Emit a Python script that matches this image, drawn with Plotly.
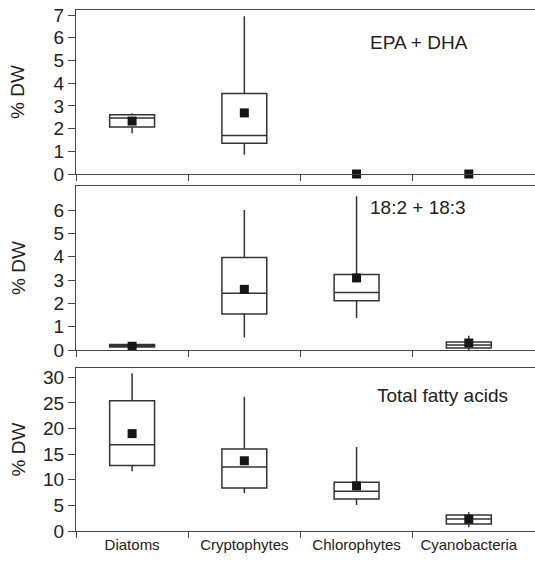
import plotly.graph_objects as go

categories = ["Diatoms", "Cryptophytes", "Chlorophytes", "Cyanobacteria"]
positions = [0, 1, 2, 3]

# EPA + DHA (% DW)
epa_lo = [1.79, 0.85, None, None]
epa_q1 = [2.07, 1.35, None, None]
epa_med = [2.47, 1.70, None, None]
epa_q3 = [2.61, 3.54, None, None]
epa_hi = [2.67, 6.95, None, None]
epa_mean = [2.33, 2.69, 0.0, 0.0]

# 18:2 + 18:3 (% DW)
lin_lo = [0.12, 0.54, 1.37, 0.0]
lin_q1 = [0.13, 1.54, 2.11, 0.09]
lin_med = [0.17, 2.43, 2.46, 0.21]
lin_q3 = [0.24, 3.97, 3.24, 0.34]
lin_hi = [0.25, 6.0, 6.59, 0.61]
lin_mean = [0.16, 2.6, 3.09, 0.3]

# Total fatty acids (% DW)
tfa_lo = [11.65, 7.35, 5.07, 0.72]
tfa_q1 = [12.8, 8.4, 6.25, 1.37]
tfa_med = [16.85, 12.5, 7.74, 2.34]
tfa_q3 = [25.4, 16.0, 9.5, 3.12]
tfa_hi = [30.8, 26.2, 16.4, 3.64]
tfa_mean = [19.0, 13.7, 8.8, 2.3]

# y tick labels per panel
epa_ticks = [0, 1, 2, 3, 4, 5, 6, 7]
lin_ticks = [0, 1, 2, 3, 4, 5, 6]
tfa_ticks = [0, 5, 10, 15, 20, 25, 30]

panels = [
    ("EPA + DHA", epa_lo, epa_q1, epa_med, epa_q3, epa_hi, epa_mean, "x", "y"),
    ("18:2 + 18:3", lin_lo, lin_q1, lin_med, lin_q3, lin_hi, lin_mean, "x2", "y2"),
    ("Total fatty acids", tfa_lo, tfa_q1, tfa_med, tfa_q3, tfa_hi, tfa_mean, "x3", "y3"),
]
yticks = [epa_ticks, lin_ticks, tfa_ticks]

FONT = "Liberation Sans, Arial, sans-serif"
LINE = "#444444"
BOXLINE = "#333333"
TXT = "#222222"

fig = go.Figure()
for name, lo, q1, med, q3, hi, mean, xa, ya in panels:
    for i, p in enumerate(positions):
        if q1[i] is None:
            continue
        fig.add_trace(go.Box(
            x=[p], q1=[q1[i]], median=[med[i]], q3=[q3[i]],
            lowerfence=[lo[i]], upperfence=[hi[i]],
            width=0.4, whiskerwidth=0, boxpoints=False,
            fillcolor="white", line=dict(color=BOXLINE, width=1.5),
            xaxis=xa, yaxis=ya, showlegend=False, name=categories[i],
        ))
    fig.add_trace(go.Scatter(
        x=positions, y=mean, mode="markers",
        marker=dict(symbol="square", size=9, color="#161616"),
        cliponaxis=False, xaxis=xa, yaxis=ya, showlegend=False,
    ))

W, H = 535, 564
ml, mr, mt, mb = 76, 0, 10, 33
ph = H - mt - mb
def dom(top_px, bot_px):
    # page-pixel positions -> domain fractions
    return [(H - mb - bot_px) / ph, (H - mb - top_px) / ph]

domains = [dom(10, 174), dom(186, 350), dom(368, 531)]
yranges = [[0, 7.22], [0, 7.03], [0, 31.8]]

xbase = dict(
    range=[-0.5, 3.59], showline=True, mirror=True, linecolor=LINE, linewidth=1.3,
    showgrid=False, zeroline=False, automargin=False, ticklabeloverflow="allow",
    tickmode="array", tickvals=positions, ticktext=categories,
    ticks="outside", ticklen=0, tickcolor="rgba(0,0,0,0)",
    minor=dict(tickmode="array", tickvals=[-0.5, 0.5, 1.5, 2.5], ticks="outside",
               ticklen=6, tickcolor=LINE, tickwidth=1.3),
    tickfont=dict(family=FONT, size=15, color=TXT),
)

layout = dict(
    width=W, height=H, margin=dict(l=ml, r=mr, t=mt, b=mb, autoexpand=False),
    paper_bgcolor="white", plot_bgcolor="white",
    font=dict(family=FONT, color=TXT),
    showlegend=False,
)
annotations = []
for k in range(3):
    sx = "" if k == 0 else str(k + 1)
    xa = dict(xbase, anchor="y" + sx, showticklabels=(k == 2))
    ya = dict(
        domain=domains[k], range=yranges[k], anchor="x" + sx, automargin=False,
        ticklabeloverflow="allow",
        showline=True, linecolor=LINE, linewidth=1.3, mirror=False,
        showgrid=False, zeroline=False, ticks="outside", ticklen=7,
        tickcolor=LINE, tickwidth=1.3, tickmode="array", tickvals=yticks[k],
        tickfont=dict(family=FONT, size=19, color=TXT),
    )
    layout["xaxis" + sx] = xa
    layout["yaxis" + sx] = ya
    annotations.append(dict(
        text="% DW", xref="paper", yref="y" + sx + " domain",
        x=-(ml - 18) / (W - ml - mr), y=0.5, xanchor="center", yanchor="middle",
        textangle=-90, showarrow=False, font=dict(family=FONT, size=19, color=TXT),
    ))

label_pos = [(2.56, 5.81), (2.55, 6.13), (2.77, 26.5)]
for k, (name, *_rest) in enumerate(panels):
    sx = "" if k == 0 else str(k + 1)
    annotations.append(dict(
        text=name, xref="x" + sx, yref="y" + sx, x=label_pos[k][0], y=label_pos[k][1],
        xanchor="center", yanchor="middle", showarrow=False,
        font=dict(family=FONT, size=19, color=TXT),
    ))
layout["annotations"] = annotations
fig.update_layout(**layout)
# remove the default 8px page margin so the figure fills the window exactly
fig.write_html("out.html", config={"displayModeBar": False},
               post_script="document.body.style.margin='0';")
